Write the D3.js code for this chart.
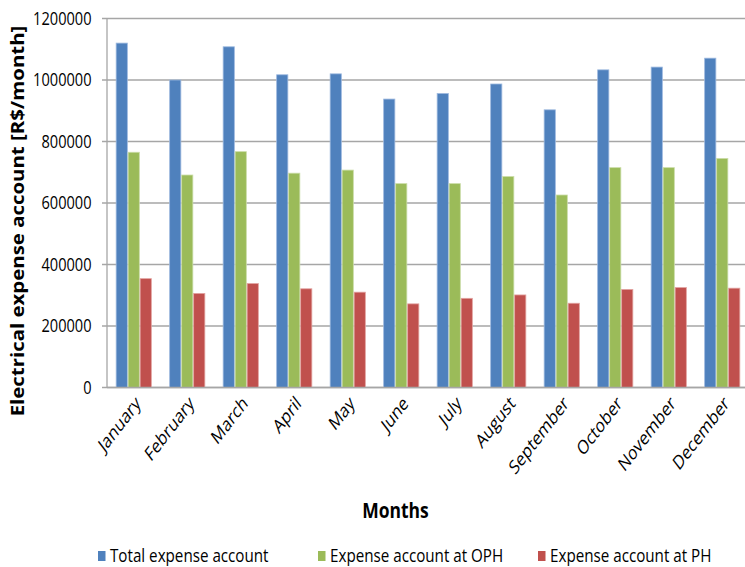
<!DOCTYPE html>
<html>
<head>
<meta charset="utf-8">
<script src="https://cdn.jsdelivr.net/npm/d3@7"></script>
<style>
  html, body { margin: 0; padding: 0; background: #fff; }
  svg { display: block; }
  text { font-family: "Open Sans", "DejaVu Sans", sans-serif; fill: #000; }
</style>
</head>
<body>
<svg id="chart" width="745" height="567"></svg>
<script>
// Monthly electrical expense account (R$/month)
const months = ["January", "February", "March", "April", "May", "June",
                "July", "August", "September", "October", "November", "December"];
const totalExpense = [1120000, 1000000, 1108000, 1017000, 1020000, 938000,
                      956000, 987000, 903000, 1033000, 1042000, 1071000];
const ophExpense = [765000, 691000, 767000, 697000, 707000, 663000,
                    663000, 686000, 626000, 715000, 715000, 745000];
const phExpense = [354000, 306000, 338000, 321000, 310000, 272000,
                   290000, 301000, 274000, 319000, 325000, 323000];
const seriesNames = ["Total expense account", "Expense account at OPH", "Expense account at PH"];
const seriesColors = ["#4F81BD", "#9BBB59", "#C0504D"];
const seriesEdges = ["#9DB9DF", "#CBDDA8", "#E2A3A1"];
const yTicks = [0, 200000, 400000, 600000, 800000, 1000000, 1200000];

const seriesValues = [totalExpense, ophExpense, phExpense];
const rows = months.map((m, i) => ({ month: m, values: seriesValues.map(s => s[i]) }));

const svg = d3.select("#chart");
const stretch = 1.2; // text is drawn slightly tall

const plot = { left: 107, right: 749, top: 18.5, bottom: 387.5 };

const x0 = d3.scaleBand().domain(months).range([plot.left, plot.right]).padding(0);
const x1 = d3.scaleBand().domain(d3.range(seriesNames.length))
  .range([0, x0.bandwidth()]).paddingInner(0).paddingOuter(0.73);
const y = d3.scaleLinear().domain([0, 1200000]).range([plot.bottom, plot.top]);

// horizontal gridlines with small outside ticks
svg.append("g").selectAll("line").data(yTicks).join("line")
  .attr("x1", plot.left - 5).attr("x2", plot.right)
  .attr("y1", d => y(d)).attr("y2", d => y(d))
  .attr("stroke", "#A6A6A6").attr("stroke-width", 1.3);

// y axis line
svg.append("line")
  .attr("x1", plot.left).attr("x2", plot.left)
  .attr("y1", y(1200000)).attr("y2", y(0))
  .attr("stroke", "#A6A6A6").attr("stroke-width", 1.3);

// y tick labels
svg.append("g").selectAll("g").data(yTicks).join("g")
  .attr("transform", d => `translate(91.5,${y(d)}) scale(1,${stretch})`)
  .append("text")
  .attr("text-anchor", "end").attr("dy", "0.36em")
  .style("font-size", "14.6px")
  .text(d => d3.format("d")(d));

// bars
const groups = svg.append("g").selectAll("g").data(rows).join("g")
  .attr("transform", d => `translate(${x0(d.month)},0)`);
groups.selectAll("rect").data(d => d.values.map((v, k) => ({ k, v }))).join("rect")
  .attr("x", d => x1(d.k) + 0.4)
  .attr("width", x1.bandwidth() - 0.8)
  .attr("y", d => y(d.v))
  .attr("height", d => y(0) - y(d.v))
  .attr("fill", d => seriesColors[d.k])
  .attr("stroke", d => seriesEdges[d.k])
  .attr("stroke-width", 0.8);

// x axis line
svg.append("line")
  .attr("x1", plot.left).attr("x2", plot.right)
  .attr("y1", y(0)).attr("y2", y(0))
  .attr("stroke", "#A6A6A6").attr("stroke-width", 1.3);

// month labels, rotated
svg.append("g").selectAll("g").data(months).join("g")
  .attr("transform", d => `translate(${x0(d) + x0.bandwidth() / 2 + 0.5},395) scale(1,1.3) rotate(-45)`)
  .append("text")
  .attr("text-anchor", "end").attr("dy", "0.7em")
  .style("font-size", "15px")
  .text(d => d);

// axis titles
svg.append("g")
  .attr("transform", `translate(395.5,518) scale(1,${stretch})`)
  .append("text")
  .attr("text-anchor", "middle")
  .style("font-size", "17.5px").style("font-weight", "bold")
  .text("Months");

svg.append("g")
  .attr("transform", `translate(23.5,221) scale(1,${stretch}) rotate(-90)`)
  .append("text")
  .attr("text-anchor", "middle")
  .style("font-size", "17px").style("font-weight", "bold")
  .text("Electrical expense account [R$/month]");

// legend
const legendX = [98, 318, 538];
const legend = svg.append("g").selectAll("g").data(seriesNames).join("g")
  .attr("transform", (d, i) => `translate(${legendX[i]},0)`);
legend.append("rect")
  .attr("x", 0).attr("y", 551).attr("width", 7.5).attr("height", 10)
  .attr("fill", (d, i) => seriesColors[i]);
legend.append("g")
  .attr("transform", `translate(12,562) scale(1,${stretch})`)
  .append("text")
  .style("font-size", "15.2px")
  .text(d => d);
</script>
</body>
</html>
